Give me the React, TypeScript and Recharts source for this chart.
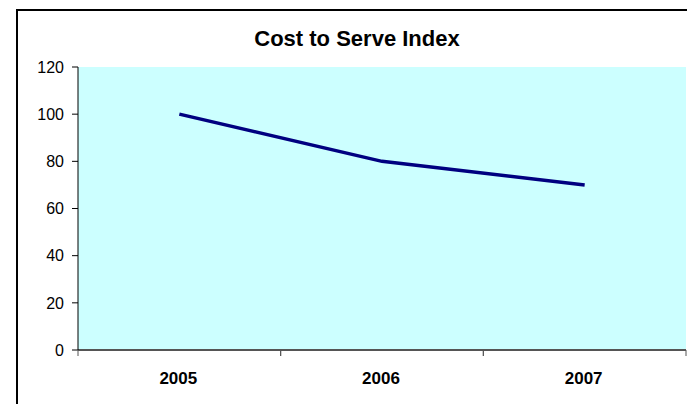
import { LineChart, Line, XAxis, YAxis, CartesianGrid } from "recharts";

const years = ["2005", "2006", "2007"];
const indexValues = [100, 80, 70];
const yTicks = [0, 20, 40, 60, 80, 100, 120];

const data = years.map((year, i) => ({ year, value: indexValues[i] }));

const W = 687;
const H = 404;
const PLOT_LEFT = 78;
const PLOT_RIGHT = 1;
const FONT = "Liberation Sans, Arial, sans-serif";

const YearTick = (props: any) => {
  const { x, y, payload } = props;
  const half =
    payload?.offset ?? (W - PLOT_LEFT - PLOT_RIGHT) / years.length / 2;
  const axisY = y - 8;
  return (
    <g>
      <line x1={x - half} x2={x - half} y1={axisY} y2={axisY + 6} stroke="#555" />
      <line x1={x + half} x2={x + half} y1={axisY} y2={axisY + 6} stroke="#555" />
      <text
        x={x - 1}
        y={axisY + 34}
        textAnchor="middle"
        fontFamily={FONT}
        fontSize={17}
        fontWeight="bold"
        fill="#000"
      >
        {payload.value}
      </text>
    </g>
  );
};

export default function App() {
  return (
    <div
      style={{
        position: "absolute",
        left: 0,
        top: 0,
        width: W,
        height: H,
        overflow: "hidden",
        background: "#fff",
      }}
    >
      <div
        style={{
          position: "absolute",
          left: 16,
          top: 9,
          width: W,
          height: H,
          border: "2px solid #000",
        }}
      />
      <div
        style={{
          position: "absolute",
          left: 57,
          top: 28,
          width: 600,
          textAlign: "center",
          fontFamily: FONT,
          fontSize: 22,
          lineHeight: 1,
          fontWeight: "bold",
        }}
      >
        Cost to Serve Index
      </div>
      <LineChart
        width={W}
        height={H}
        data={data}
        margin={{ top: 67, right: PLOT_RIGHT, bottom: 0, left: 0 }}
        style={{ position: "absolute", left: 0, top: 0 }}
      >
        <CartesianGrid horizontal={false} vertical={false} fill="#CCFFFF" />
        <XAxis
          xAxisId="top"
          orientation="top"
          dataKey="year"
          scale="band"
          height={0}
          tick={false}
          tickLine={false}
          axisLine={{ stroke: "#888", strokeWidth: 1 }}
        />
        <YAxis
          yAxisId="right"
          orientation="right"
          width={0}
          domain={[0, 120]}
          tick={false}
          tickLine={false}
          axisLine={{ stroke: "#888", strokeWidth: 1 }}
        />
        <XAxis
          dataKey="year"
          scale="band"
          height={54}
          tickLine={false}
          axisLine={{ stroke: "#555", strokeWidth: 2 }}
          tick={<YearTick />}
          interval={0}
        />
        <YAxis
          width={PLOT_LEFT}
          domain={[0, 120]}
          ticks={yTicks}
          interval={0}
          tickSize={6}
          tickMargin={8}
          tickLine={{ stroke: "#000" }}
          axisLine={{ stroke: "#000" }}
          tick={{
            fill: "#000",
            fontSize: 16,
            fontFamily: FONT,
          }}
        />
        <Line
          dataKey="value"
          stroke="#000080"
          strokeWidth={3.5}
          dot={false}
          isAnimationActive={false}
        />
      </LineChart>
    </div>
  );
}
